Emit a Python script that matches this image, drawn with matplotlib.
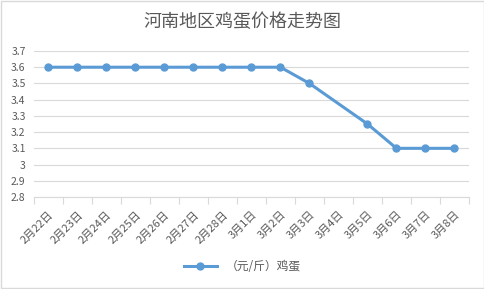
import numpy as np
import matplotlib
matplotlib.use("Agg")
import matplotlib.pyplot as plt

plt.rcParams['font.family'] = ['Noto Sans CJK SC', 'DejaVu Sans']

categories = ["2月22日", "2月23日", "2月24日", "2月25日", "2月26日", "2月27日", "2月28日",
              "3月1日", "3月2日", "3月3日", "3月4日", "3月5日", "3月6日", "3月7日", "3月8日"]
prices = [3.6, 3.6, 3.6, 3.6, 3.6, 3.6, 3.6, 3.6, 3.6, 3.5, np.nan, 3.25, 3.1, 3.1, 3.1]
yticks = [2.8, 2.9, 3.0, 3.1, 3.2, 3.3, 3.4, 3.5, 3.6, 3.7]
ytick_labels = ["2.8", "2.9", "3", "3.1", "3.2", "3.3", "3.4", "3.5", "3.6", "3.7"]
title = "河南地区鸡蛋价格走势图"
series_name = "（元/斤）鸡蛋"

blue = "#5B9BD5"
txt = "#595959"
grid = "#D9D9D9"

fig = plt.figure(figsize=(4.85, 2.89), dpi=100)
ax = fig.add_axes([34/485, 1-197/289, 435/485, 146/289])

x = np.arange(len(categories))
y = np.array(prices, dtype=float)
valid = ~np.isnan(y)
ax.plot(x[valid], y[valid], color=blue, lw=2.2, marker='o', ms=5,
        markerfacecolor=blue, markeredgecolor=blue, label=series_name, zorder=3)

ax.set_xlim(-0.5, len(categories) - 0.5)
ax.set_ylim(2.8, 3.7)
ax.set_yticks(yticks)
ax.set_yticklabels(ytick_labels)
ax.yaxis.grid(True, color=grid, lw=0.8)
ax.set_axisbelow(True)

ax.set_xticks(x)
ax.set_xticklabels(categories, rotation=45, ha='right', va='top', rotation_mode='anchor')
ax.set_xticks(np.arange(-0.5, len(categories)), minor=True)
ax.tick_params(axis='x', which='major', length=0, pad=9, labelsize=8, labelcolor=txt)
ax.tick_params(axis='x', which='minor', length=5, color=grid, width=0.8)
ax.tick_params(axis='y', length=0, labelsize=7.5, labelcolor=txt, pad=6)

for s in ['top', 'right', 'left']:
    ax.spines[s].set_visible(False)
ax.spines['bottom'].set_color(grid)
ax.spines['bottom'].set_linewidth(0.8)

fig.text(0.5, 1-22/289, title, ha='center', va='center', fontsize=13, color=txt)

leg = fig.legend(loc='center', bbox_to_anchor=(0.5, 1-267/289), frameon=False,
                 fontsize=8.5, handlelength=2.8, labelcolor=txt)

# outer border
fig.patches.append(plt.Rectangle((0.002, 0.003), 0.996, 0.994, transform=fig.transFigure,
                                 fill=False, edgecolor=grid, lw=1))

fig.savefig("out.png", dpi=100)
